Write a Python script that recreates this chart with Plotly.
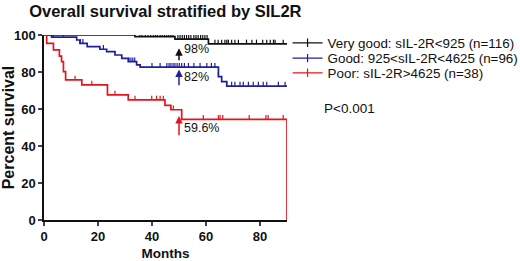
import numpy as np
import plotly.graph_objects as go

# ---------------- data ----------------
group_names = ["Very good: sIL-2R<925 (n=116)",
               "Good: 925<sIL-2R<4625 (n=96)",
               "Poor: sIL-2R>4625 (n=38)"]
group_colors = ["#111111", "#1f1f9e", "#e3141c"]

black_t = [0, 33.7, 48.5, 60.9, 90]
black_s = [100, 99.1, 97.8, 95.2, 95.2]
blue_t = [0, 2.8, 12.1, 13.3, 16, 20.7, 23.2, 26.3, 28.8, 31.2, 34.3, 35.6, 64.6, 65.8, 67.7, 90]
blue_s = [100, 98.9, 97.3, 95.5, 93.7, 92.3, 91, 89.2, 87.4, 85.6, 83.8, 82.6, 77.5, 74.8, 72.4, 72.4]
red_t = [0, 1.0, 3.5, 5.7, 6.5, 7.2, 8.0, 14, 23.5, 31.2, 44.8, 47, 51, 90, 90]
red_s = [100, 95.5, 92, 88.6, 85.6, 80.2, 75.7, 73, 67.6, 64.9, 62, 59.6, 54.4, 54.4, 0]

black_cens = [20.7, 25.9, 28.8, 29.6, 30.4, 31.2, 32, 32.8, 35.5, 36.3, 37.5, 38.5,
              39.5, 40.5, 41.3, 42, 43, 43.8, 44.6, 45.4, 46.2, 47, 47.8, 49.6, 50.4,
              51.2, 52, 52.8, 53.6, 54.4, 55.5, 56.3, 57.1, 58, 58.8, 59.6, 60.4, 63.3,
              64.5, 65.8, 67, 67.7, 68.3, 69.5, 70.7, 72, 75, 77, 78.7, 81, 82.5, 83.8,
              85, 85.6, 88.6]
blue_cens = [3.5, 7.1, 13.5, 14.4, 22, 31.5, 32.2, 32.9, 33.6, 40, 43, 45.5, 46.3, 47,
             47.8, 48.5, 49.3, 50.1, 51, 52, 53.5, 55.5, 57.8, 60.3, 62, 63.3, 64.6, 69.5,
             70.7, 72.6, 73.8, 75.7, 77.5, 79.4, 81.2, 82.5, 86.8, 89.3]
red_cens = [11.5, 17.7, 26.3, 33.7, 39.9, 41.7, 43, 44.2, 47.9, 59, 64.6, 65.2, 66.2,
            76, 82.2, 83, 88.6]

x_ticks = [0, 20, 40, 60, 80]
y_ticks = [0, 20, 40, 60, 80, 100]

ann_month = 50
ann_text = ["98%", "82%", "59.6%"]
ann_tip = [92.8, 81.4, 56.2]
ann_tail = [85.6, 72.0, 45.0]
ann_text_y = [92.3, 77.5, 49.6]
p_text = "P<0.001"

FONT = "Liberation Sans, Arial, sans-serif"
TICK_H = 2.3  # censor tick height (percent units)

fig = go.Figure()

curves = [(black_t, black_s, black_cens), (blue_t, blue_s, blue_cens), (red_t, red_s, red_cens)]
legend_ids = ["legend", "legend2", "legend3"]
for (t, s, c), col, name, lg in zip(curves, group_colors, group_names, legend_ids):
    fig.add_trace(go.Scatter(x=t, y=s, mode="lines", line=dict(color=col, width=1.7, shape="hv"),
                             showlegend=False, hoverinfo="skip", cliponaxis=False))
    t_arr = np.array(t)
    s_arr = np.array(s)
    idx = np.searchsorted(t_arr, np.array(c), side="right") - 1
    cy = s_arr[idx]
    fig.add_trace(go.Scatter(x=c, y=cy, mode="markers",
                             marker=dict(size=1, color=col, opacity=0),
                             error_y=dict(type="constant", value=TICK_H, symmetric=False,
                                          valueminus=0, width=0, thickness=1.2, color=col),
                             showlegend=False, hoverinfo="skip", cliponaxis=False))
    fig.add_trace(go.Scatter(x=[None], y=[None], mode="lines+markers", name=name,
                             line=dict(color=col, width=1.2),
                             marker=dict(symbol="line-ns", size=6, line=dict(color=col, width=1.2)),
                             legend=lg))

for col, txt, tip, tail, ty in zip(group_colors, ann_text, ann_tip, ann_tail, ann_text_y):
    fig.add_annotation(x=ann_month, y=tip, ax=ann_month, ay=tail, axref="x", ayref="y",
                       xref="x", yref="y", showarrow=True, arrowhead=2, arrowsize=1,
                       arrowwidth=1.5, arrowcolor=col, text="")
    fig.add_annotation(x=ann_month + 1.2, y=ty, xref="x", yref="y", text=txt, showarrow=False,
                       xanchor="left", yanchor="middle", font=dict(family=FONT, size=12.5, color="#111"))

fig.add_annotation(x=1.144, y=0.605, xref="paper", yref="paper", text=p_text, showarrow=False,
                   xanchor="left", yanchor="middle", font=dict(family=FONT, size=13.5, color="#111"))

leg_common = dict(xref="container", yref="container", x=0.553, xanchor="left", yanchor="middle",
                  bgcolor="rgba(0,0,0,0)", borderwidth=0, itemwidth=30,
                  font=dict(family=FONT, size=13.4, color="#111"))
fig.update_layout(
    legend=dict(y=0.835, **leg_common),
    legend2=dict(y=0.776, **leg_common),
    legend3=dict(y=0.720, **leg_common),
)

fig.update_layout(
    width=520, height=261,
    margin=dict(l=44, r=233, t=35, b=41, autoexpand=False),
    paper_bgcolor="white", plot_bgcolor="white",
    title=dict(text="<b>Overall survival stratified by SIL2R</b>", x=0.318, xanchor="center",
               xref="container", y=0.958, yanchor="middle",
               font=dict(family=FONT, size=16.5, color="#111")),
    xaxis=dict(range=[0, 90], tickvals=x_ticks, ticks="outside", ticklen=4, tickwidth=1.5,
               showline=True, linecolor="#111", linewidth=1.6, showgrid=False, zeroline=False,
               automargin=False,
               tickfont=dict(family=FONT, size=13, color="#111", weight="bold"),
               title=dict(text="<b>Months</b>", standoff=8,
                          font=dict(family=FONT, size=13.5, color="#111"))),
    yaxis=dict(range=[0, 100], tickvals=y_ticks, ticks="outside", ticklen=4, tickwidth=1.5,
               showline=True, linecolor="#111", linewidth=1.6, showgrid=False, zeroline=False,
               automargin=False,
               tickfont=dict(family=FONT, size=13, color="#111", weight="bold"),
               title=dict(text="<b>Percent survival</b>", standoff=10,
                          font=dict(family=FONT, size=16, color="#111"))),
)

fig.write_html("out.html", config={"displayModeBar": False, "staticPlot": True},
               post_script="document.body.style.margin='0';document.body.style.overflow='hidden';")
